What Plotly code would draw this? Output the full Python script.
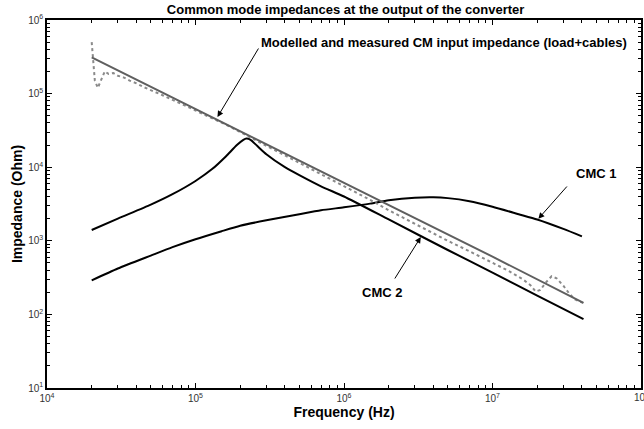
import plotly.graph_objects as go

# ---------------- data ----------------
f_model = [2.0e4, 1.0e5, 1.0e6, 1.0e7, 4.1e7]
z_model = [3.1e5, 6.2e4, 6.2e3, 6.1e2, 1.43e2]

f_meas = [2.0e4, 2.05e4, 2.1e4, 2.2e4, 2.3e4, 2.45e4, 2.6e4, 2.8e4, 3.0e4, 3.3e4,
          3.6e4, 4.0e4, 4.5e4, 5.0e4, 6.0e4, 7.0e4, 8.0e4, 1.0e5, 1.3e5, 1.6e5,
          2.0e5, 2.5e5, 3.0e5, 4.0e5, 5.0e5, 7.0e5, 1.0e6, 1.5e6, 2.0e6, 3.0e6,
          5.0e6, 7.0e6, 1.0e7, 1.3e7, 1.6e7, 1.8e7, 1.95e7, 2.1e7, 2.3e7, 2.5e7,
          2.7e7, 3.0e7, 3.3e7, 3.6e7, 3.9e7, 4.1e7]
z_meas = [5.0e5, 3.0e5, 1.5e5, 1.2e5, 1.5e5, 2.0e5, 1.85e5, 1.9e5, 1.75e5, 1.65e5,
          1.5e5, 1.38e5, 1.22e5, 1.12e5, 9.5e4, 8.2e4, 7.3e4, 5.9e4, 4.6e4, 3.8e4,
          3.0e4, 2.4e4, 1.95e4, 1.45e4, 1.15e4, 8.1e3, 5.6e3, 3.6e3, 2.6e3, 1.7e3,
          1.0e3, 720, 500, 385, 300, 250, 205, 215, 275, 330,
          310, 245, 190, 160, 148, 143]

f_cmc1 = [2.0e4, 3.0e4, 5.0e4, 7.0e4, 1.0e5, 1.5e5, 2.0e5, 3.0e5, 5.0e5, 7.0e5,
          1.0e6, 1.5e6, 2.0e6, 3.0e6, 4.0e6, 5.0e6, 7.0e6, 1.0e7, 1.5e7, 2.0e7,
          3.0e7, 4.0e7]
z_cmc1 = [290, 420, 630, 820, 1050, 1350, 1600, 1900, 2300, 2600,
          2850, 3200, 3550, 3850, 3900, 3800, 3450, 2900, 2300, 1950,
          1450, 1150]

f_cmc2 = [2.0e4, 3.0e4, 5.0e4, 7.0e4, 1.0e5, 1.3e5, 1.6e5, 1.9e5, 2.1e5, 2.2e5,
          2.35e5, 2.6e5, 3.0e5, 4.0e5, 5.0e5, 7.0e5, 1.0e6, 2.0e6, 5.0e6, 1.0e7,
          2.0e7, 4.1e7]
z_cmc2 = [1.4e3, 2.0e3, 3.1e3, 4.3e3, 6.5e3, 9.5e3, 1.4e4, 2.0e4, 2.35e4, 2.45e4,
          2.35e4, 1.95e4, 1.5e4, 1.0e4, 7.8e3, 5.5e3, 4.0e3, 1.95e3, 750, 370,
          180, 86]

x_tick_vals = [1e4, 1e5, 1e6, 1e7, 1e8]
x_tick_text = ["10<sup>4</sup>", "10<sup>5</sup>", "10<sup>6</sup>", "10<sup>7</sup>", "10<sup>8</sup>"]
y_tick_vals = [1e1, 1e2, 1e3, 1e4, 1e5, 1e6]
y_tick_text = ["10<sup>1</sup>", "10<sup>2</sup>", "10<sup>3</sup>", "10<sup>4</sup>", "10<sup>5</sup>", "10<sup>6</sup>"]

# ---------------- figure ----------------
FONT = "Liberation Sans, Arial, Helvetica, sans-serif"
TICK_FONT = dict(family=FONT, size=10, color="#333333")

fig = go.Figure()
fig.add_trace(go.Scatter(x=f_cmc1, y=z_cmc1, mode="lines", line=dict(color="black", width=2, shape="spline", smoothing=0.6), name="CMC 1"))
fig.add_trace(go.Scatter(x=f_cmc2, y=z_cmc2, mode="lines", line=dict(color="black", width=2, shape="spline", smoothing=0.6), name="CMC 2"))
fig.add_trace(go.Scatter(x=f_meas, y=z_meas, mode="lines", line=dict(color="#8a8a8a", width=2, dash="dot"), name="Measured"))
fig.add_trace(go.Scatter(x=f_model, y=z_model, mode="lines", line=dict(color="#5f5f5f", width=2), name="Modelled"))

minor_x = [m * 10 ** e for e in range(4, 8) for m in range(2, 10)]
minor_y = [m * 10 ** e for e in range(1, 6) for m in range(2, 10)]

axis_common = dict(
    type="log", showgrid=False, zeroline=False, showline=True, linecolor="black", linewidth=1.5,
    mirror="ticks", ticks="inside", ticklen=5, tickcolor="black", tickwidth=1,
    tickfont=TICK_FONT,
)
fig.update_xaxes(**axis_common, range=[4, 8], tickmode="array", tickvals=x_tick_vals, ticktext=x_tick_text,
                 minor=dict(tickmode="array", tickvals=minor_x, ticks="inside", ticklen=3, tickcolor="black", showgrid=False),
                 title=dict(text="<b>Frequency (Hz)</b>", font=dict(family=FONT, size=14, color="black"), standoff=4))
fig.update_yaxes(**axis_common, range=[1, 6], tickmode="array", tickvals=y_tick_vals, ticktext=y_tick_text,
                 minor=dict(tickmode="array", tickvals=minor_y, ticks="inside", ticklen=3, tickcolor="black", showgrid=False),
                 title=dict(text="<b>Impedance (Ohm)</b>", font=dict(family=FONT, size=14, color="black"), standoff=2))

# last x tick label sits on the window edge (partly cut off, as in the original)
fig.add_annotation(x=8, y=0, xref="x", yref="paper", xanchor="center", yanchor="top", yshift=-1,
                   showarrow=False, text=x_tick_text[-1], font=TICK_FONT)

ann_font = dict(family=FONT, size=13, color="black")
arrows = [
    # arrows (tail -> head), coordinates in log10 units
    dict(x=5.148, y=4.682, ax=5.43, ay=5.633),
    dict(x=7.309, y=3.30, ax=7.51, ay=3.758),
    dict(x=6.517, y=3.05, ax=6.336, ay=2.467),
]
for a in arrows:
    fig.add_annotation(x=a["x"], y=a["y"], ax=a["ax"], ay=a["ay"], xref="x", yref="y", axref="x", ayref="y",
                       text="", showarrow=True, arrowhead=2, arrowsize=1.2, arrowwidth=1, arrowcolor="black")

fig.add_annotation(x=5.43, y=5.70, xref="x", yref="y", xanchor="left", yanchor="middle", showarrow=False,
                   text="<b>Modelled and measured CM input impedance (load+cables)</b>", font=ann_font)
fig.add_annotation(x=7.698, y=3.92, xref="x", yref="y", xanchor="center", yanchor="middle", showarrow=False,
                   text="<b>CMC 1</b>", font=ann_font)
fig.add_annotation(x=6.255, y=2.30, xref="x", yref="y", xanchor="center", yanchor="middle", showarrow=False,
                   text="<b>CMC 2</b>", font=ann_font)

fig.update_layout(
    width=644, height=429,
    margin=dict(l=47, r=1, t=20, b=41),
    paper_bgcolor="white", plot_bgcolor="white",
    showlegend=False,
    title=dict(text="<b>Common mode impedances at the output of the converter</b>",
               font=dict(family=FONT, size=13, color="black"),
               x=0.5366, xanchor="center", y=0.979, yanchor="middle"),
)

fig.write_html("out.html")
